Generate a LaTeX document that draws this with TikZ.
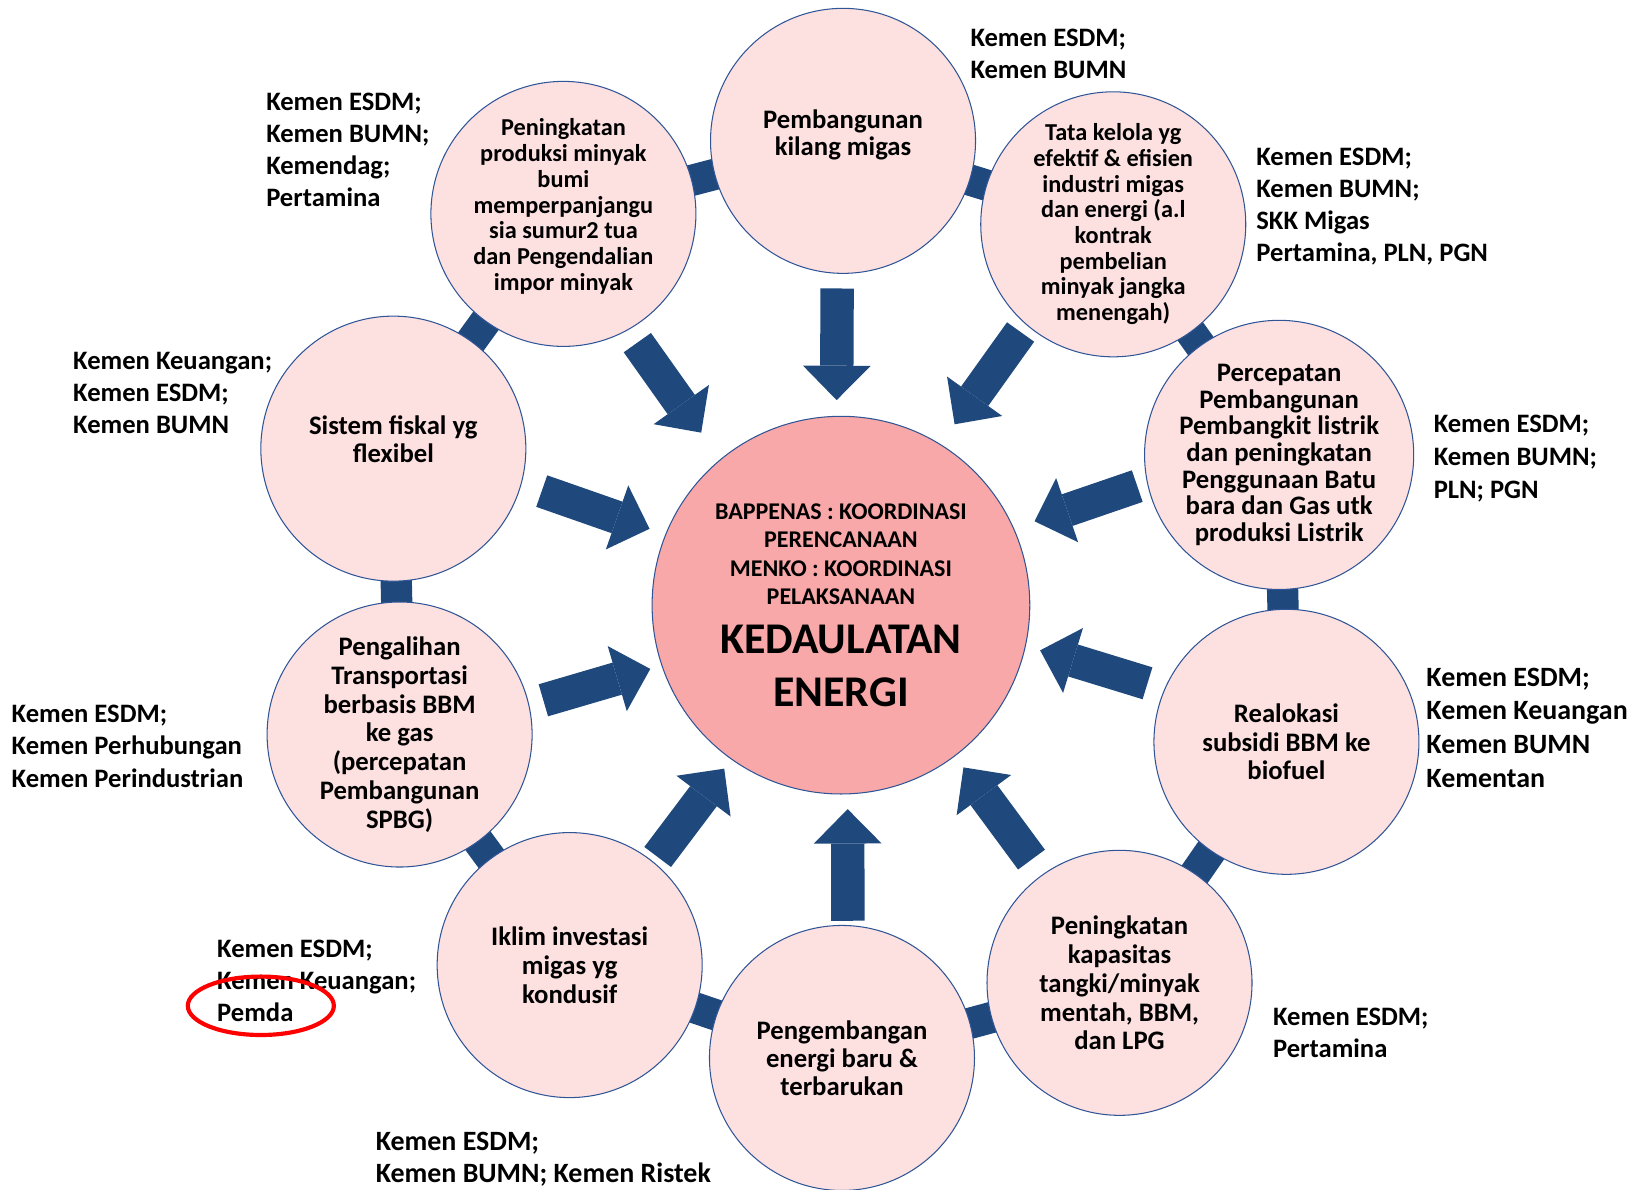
\documentclass[tikz,border=0pt]{standalone}
\usepackage{fontspec}
\setmainfont{Carlito}
\usetikzlibrary{arrows.meta,backgrounds}

\definecolor{navy}{HTML}{1F497D}
\definecolor{rim}{HTML}{2F5597}
\definecolor{petal}{HTML}{FDE0E0}
\definecolor{heart}{HTML}{F8A8A8}
\definecolor{redmark}{HTML}{FF0000}

\begin{document}
\begin{tikzpicture}[x=1pt, y=-1pt,
    main/.style = {draw=rim, line width=1pt, fill=petal, circle, minimum size=254pt, inner sep=0pt, align=center, font=\fontsize{25.6}{#1}\selectfont\bfseries},
    core/.style = {draw=rim, line width=1pt, fill=heart, circle, minimum size=362pt, inner sep=0pt, align=center, font=\fontsize{23}{27.2}\selectfont\bfseries},
    org/.style = {anchor=north west, inner sep=0pt, align=left, font=\fontsize{25.5}{30.7}\selectfont\bfseries},
    link/.style = {navy, line width=30pt},
    push/.style = {navy, line width=32pt, -{Triangle[length=33pt, width=65pt, line width=0pt]}}]
    \useasboundingbox (0,0) rectangle (1569,1140);

    \node[core] (core) at (806,580) {BAPPENAS : KOORDINASI\\PERENCANAAN\\MENKO : KOORDINASI\\PELAKSANAAN\\[18.5pt]{\fontsize{42}{48}\selectfont KEDAULATAN}\\[21.5pt]{\fontsize{42}{48}\selectfont ENERGI}};

    \node[main=26] (goal1) at (808,135) {Pembangunan\\kilang migas\\[-10pt]\mbox{}};
    \node[main=24.6, font=\fontsize{23.3}{24.6}\selectfont\bfseries] (goal2) at (1067,215) {Tata kelola yg\\efektif \& efisien\\industri migas\\dan energi (a.l\\kontrak\\pembelian\\minyak jangka\\menengah)};
    \node[main=25.6] (goal3) at (1226,436) {Percepatan\\Pembangunan\\Pembangkit listrik\\dan peningkatan\\Penggunaan Batu\\bara dan Gas utk\\produksi Listrik};
    \node[main=27] (goal4) at (1233,711) {Realokasi\\subsidi BBM ke\\biofuel};
    \node[main=27.7] (goal5) at (1073,942) {Peningkatan\\kapasitas\\tangki/minyak\\mentah, BBM,\\dan LPG};
    \node[main=27] (goal6) at (807,1014) {Pengembangan\\energi baru \&\\terbarukan};
    \node[main=27.5] (goal7) at (546,925) {Iklim investasi\\migas yg\\kondusif};
    \node[main=27.6] (goal8) at (383,704) {Pengalihan\\Transportasi\\berbasis BBM\\ke gas\\(percepatan\\Pembangunan\\SPBG)};
    \node[main=27] (goal9) at (377,430) {Sistem fiskal yg\\flexibel\\[-9pt]\mbox{}};
    \node[main=24.7, font=\fontsize{23.3}{24.7}\selectfont\bfseries] (goal10) at (540,205) {Peningkatan\\produksi minyak\\bumi\\memperpanjangu\\sia sumur2 tua\\dan Pengendalian\\impor minyak\\[-7pt]\mbox{}};

    \begin{scope}[on background layer]
        \draw[link] (goal1.center) -- (goal2.center);
        \draw[link] (goal2.center) -- (goal3.center);
        \draw[link] (goal3.center) -- (goal4.center);
        \draw[link] (goal4.center) -- (goal5.center);
        \draw[link] (goal5.center) -- (goal6.center);
        \draw[link] (goal6.center) -- (goal7.center);
        \draw[link] (goal7.center) -- (goal8.center);
        \draw[link] (goal8.center) -- (goal9.center);
        \draw[link] (goal9.center) -- (goal10.center);
        \draw[link] (goal10.center) -- (goal1.center);
    \end{scope}

    \draw[push, shorten <=14pt, shorten >=15pt, transform canvas={shift={(-5,0)}}] (goal1) -- (core);
    \draw[push, shorten <=8pt, shorten >=23pt, transform canvas={shift={(-10,-7)}}] (goal2) -- (core);
    \draw[push, shorten <=9pt, shorten >=20pt, transform canvas={shift={(-5,-15)}}] (goal3) -- (core);
    \draw[push, shorten <=16pt, shorten >=14pt, transform canvas={shift={(4,-14)}}] (goal4) -- (core);
    \draw[push, shorten <=18pt, shorten >=13pt, transform canvas={shift={(2,-1)}}] (goal5) -- (core);
    \draw[push, shorten <=4pt, shorten >=14pt, transform canvas={shift={(6,0)}}] (goal6) -- (core);
    \draw[push, shorten <=6pt, shorten >=11pt, transform canvas={shift={(4,3)}}] (goal7) -- (core);
    \draw[push, shorten <=14pt, shorten >=11pt, transform canvas={shift={(2,7)}}] (goal8) -- (core);
    \draw[push, shorten <=20pt, shorten >=16pt, transform canvas={shift={(3,-8)}}] (goal9) -- (core);
    \draw[push, shorten <=14pt, shorten >=31pt, transform canvas={shift={(-11,8)}}] (goal10) -- (core);

    \node[org] (org1) at (930,28) {Kemen ESDM;\\Kemen BUMN};
    \node[org] (org2) at (1204,142) {Kemen ESDM;\\Kemen BUMN;\\SKK Migas\\Pertamina, PLN, PGN};
    \node[org, font=\fontsize{25.5}{31.5}\selectfont\bfseries] (org3) at (1374,398) {Kemen ESDM;\\Kemen BUMN;\\PLN; PGN};
    \node[org, font=\fontsize{26.8}{32.3}\selectfont\bfseries] (org4) at (1367,640) {Kemen ESDM;\\Kemen Keuangan\\Kemen BUMN\\Kementan};
    \node[org] (org5) at (1220,966) {Kemen ESDM;\\Pertamina};
    \node[org, font=\fontsize{26.8}{30.5}\selectfont\bfseries] (org6) at (360,1085) {Kemen ESDM;\\Kemen BUMN; Kemen Ristek};
    \node[org] (org7) at (208,901) {Kemen ESDM;\\Kemen Keuangan;\\Pemda};
    \node[org] (org8) at (11,676) {Kemen ESDM;\\Kemen Perhubungan\\Kemen Perindustrian};
    \node[org] (org9) at (70,337) {Kemen Keuangan;\\Kemen ESDM;\\Kemen BUMN};
    \node[org] (org10) at (255,89) {Kemen ESDM;\\Kemen BUMN;\\Kemendag;\\Pertamina};

    \draw[redmark, line width=4pt] (250,964) ellipse [x radius=70pt, y radius=28pt];
\end{tikzpicture}
\end{document}
